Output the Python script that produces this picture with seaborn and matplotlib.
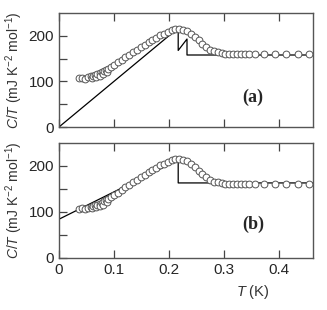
import matplotlib
matplotlib.use("Agg")
import matplotlib.pyplot as plt
import pandas as pd
import numpy as np
import seaborn as sns

# measured C/T data (same in both panels)
T = [0.036, 0.042, 0.048, 0.053, 0.058, 0.060, 0.062, 0.066, 0.068, 0.070, 0.074,
     0.075, 0.078, 0.080, 0.082, 0.086, 0.088, 0.090, 0.095, 0.100, 0.107, 0.114,
     0.121, 0.128, 0.135, 0.142, 0.149, 0.156, 0.163, 0.170, 0.177, 0.184, 0.191,
     0.198, 0.205, 0.212, 0.219, 0.226, 0.233, 0.240, 0.247, 0.254, 0.261, 0.268,
     0.275, 0.282, 0.289, 0.296, 0.303, 0.310, 0.317, 0.324, 0.331, 0.338, 0.345,
     0.356, 0.373, 0.393, 0.413, 0.434, 0.455]
CT = [107, 108, 106, 109, 111, 108, 112, 114, 110, 116, 118,
      113, 120, 116, 123, 126, 121, 128, 132, 137, 142, 148,
      154, 159, 165, 170, 176, 181, 186, 191, 196, 201, 205,
      209, 212, 214, 215, 213, 210, 205, 198, 190, 183, 176,
      170, 166, 164, 162, 161, 160, 160, 160, 160, 160, 160,
      160, 160, 160, 160, 160, 160]

# model curves
fit_a_T = [0, 0.217, 0.217, 0.233, 0.233, 0.462]
fit_a_C = [0, 217, 168, 193, 158, 158]
fit_b_T = [0, 0.217, 0.217, 0.462]
fit_b_C = [84, 213, 163, 163]

sns.set_style("white")
plt.rcParams['font.family'] = ['Liberation Sans', 'DejaVu Sans']
plt.rcParams['mathtext.fontset'] = 'custom'
plt.rcParams['mathtext.rm'] = 'Liberation Sans'
plt.rcParams['mathtext.it'] = 'Liberation Sans:italic'

df = pd.DataFrame({'T': T, 'CT': CT})

fig = plt.figure(figsize=(3.27, 3.10), dpi=100)
ax1 = fig.add_axes([0.180, 0.590, 0.777, 0.368])
ax2 = fig.add_axes([0.180, 0.168, 0.777, 0.371])

panels = [(ax1, fit_a_T, fit_a_C, '(a)', 0.26), (ax2, fit_b_T, fit_b_C, '(b)', 0.29)]
for ax, ft, fc, lab, ly in panels:
    sns.lineplot(x=ft, y=fc, ax=ax, sort=False, estimator=None, color='black', linewidth=0.9)
    sns.scatterplot(data=df, x='T', y='CT', ax=ax, marker='o', s=24,
                    facecolor='white', edgecolor='#555555', linewidth=0.7, zorder=3)
    ax.set_xlim(0, 0.462)
    ax.set_ylim(0, 250)
    ax.set_xticks([0, 0.1, 0.2, 0.3, 0.4])
    ax.set_yticks([0, 100, 200])
    ax.set_yticks([50, 150], minor=True)
    ax.tick_params(axis='both', which='both', direction='in', length=6, width=0.9,
                   color='#444444', labelsize=11, top=True, right=False, left=True, bottom=True)
    for sp in ax.spines.values():
        sp.set_color('#555555')
        sp.set_linewidth(1.0)
    ax.set_ylabel(r'$C/T$ (mJ K$^{-2}$ mol$^{-1}$)', fontsize=10, color='#333333')
    ax.yaxis.set_label_coords(-0.135, 0.5)
    ax.text(0.764, ly, lab, transform=ax.transAxes, ha='center', va='center',
            fontsize=13, fontweight='bold', family='Liberation Serif')

ax1.set_xlabel('')
ax1.tick_params(labelbottom=False)
ax2.set_xticklabels(['0', '0.1', '0.2', '0.3', '0.4'])
ax2.set_xlabel(r'$T$ (K)', fontsize=10.5, color='#333333')
ax2.xaxis.set_label_coords(0.764, -0.22)

fig.savefig('out.png', dpi=100)
